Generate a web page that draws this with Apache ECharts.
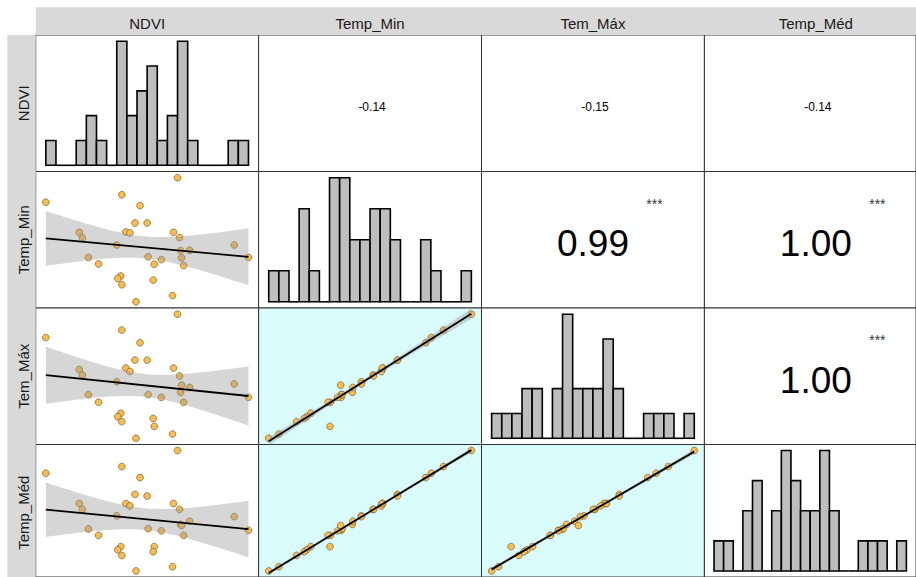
<!DOCTYPE html>
<html><head><meta charset="utf-8">
<script src="https://cdn.jsdelivr.net/npm/echarts@6/dist/echarts.min.js"></script>
<style>html,body{margin:0;padding:0;background:#fff}#c{width:916px;height:577px}</style>
</head><body><div id="c"></div>
<script>
// ---- data ----
const varNames = ['NDVI', 'Temp_Min', 'Tem_Máx', 'Temp_Méd'];
const ndvi    = [0.600,0.675,0.730,0.693,0.688,0.700,0.633,0.636,0.679,0.683,0.726,0.732,0.670,0.733,0.742,0.786,0.800,0.642,0.701,0.714,0.734,0.652,0.707,0.736,0.674,0.671,0.675,0.706,0.725,0.689];
const tempMin = [17.21,17.45,18.00,17.10,16.54,16.54,16.24,16.06,16.25,16.22,16.24,16.07,15.83,15.65,15.66,15.83,15.43,15.43,15.45,15.36,15.42,15.22,15.21,15.17,14.83,14.75,14.55,14.70,14.20,14.00];
const temMax  = [30.06,30.36,31.00,29.85,29.15,29.15,28.77,28.55,28.83,28.69,28.83,28.51,28.28,27.85,28.05,28.19,27.65,27.76,27.76,27.65,28.14,27.45,26.48,27.45,27.01,26.87,26.67,26.80,26.17,26.00];
const tempMed = [23.65,23.90,24.50,23.49,22.86,22.80,22.52,22.30,22.52,22.43,22.52,22.30,22.06,21.74,21.86,22.03,21.52,21.57,21.58,21.50,21.70,21.33,20.91,21.33,20.91,20.79,20.58,20.72,20.16,20.00];
// histogram counts (20 bins spanning each variable's range)
const histNDVI    = [1,0,0,1,2,1,0,5,2,3,4,1,2,5,1,0,0,0,1,1];
const histTempMin = [1,1,0,3,1,0,4,4,2,2,3,3,2,0,0,2,1,0,0,1];
const histTemMax  = [1,1,1,2,2,0,2,5,2,2,2,4,2,0,0,1,1,1,0,1];
const histTempMed = [1,1,0,2,3,0,2,4,3,2,2,4,2,0,0,1,1,1,0,1];
// correlation labels in the upper panels [row][col]
const corrText  = [[null,'-0.14','-0.15','-0.14'],[null,null,'0.99','1.00'],[null,null,null,'1.00'],[null,null,null,null]];
const corrStars = [[null,'','',''],[null,null,'***','***'],[null,null,null,'***'],[null,null,null,null]];

// ---- layout ----
const L0 = 35.7, T0 = 35, CW = 222.9, CH = 136.5;
const vars = [ndvi, tempMin, temMax, tempMed];
const hists = [histNDVI, histTempMin, histTemMax, histTempMed];
const T_CRIT = 2.048; // t(0.975, 28)

function ext(a){const mn=Math.min(...a), mx=Math.max(...a), r=mx-mn; return {mn, mx, lo:mn-0.05*r, hi:mx+0.05*r};}
function fit(x, y){
  const n=x.length; const xb=x.reduce((s,v)=>s+v,0)/n, yb=y.reduce((s,v)=>s+v,0)/n;
  let sxx=0, sxy=0; for(let i=0;i<n;i++){sxx+=(x[i]-xb)**2; sxy+=(x[i]-xb)*(y[i]-yb);}
  const b=sxy/sxx, a=yb-b*xb; let sse=0; for(let i=0;i<n;i++){sse+=(y[i]-a-b*x[i])**2;}
  const s=Math.sqrt(sse/(n-2)); const mn=Math.min(...x), mx=Math.max(...x);
  const up=[], lo=[];
  for(let j=0;j<=80;j++){const x0=mn+(mx-mn)*j/80, yh=a+b*x0, se=s*Math.sqrt(1/n+(x0-xb)**2/sxx); up.push([x0,yh+T_CRIT*se]); lo.push([x0,yh-T_CRIT*se]);}
  return {line:[[mn,a+b*mn],[mx,a+b*mx]], poly: up.concat(lo.reverse())};
}

const grids=[], xAxes=[], yAxes=[], series=[], elems=[];
for(let r=0;r<4;r++){
  for(let c=0;c<4;c++){
    const k=r*4+c;
    grids.push({left:L0+c*CW, top:T0+r*CH, width:CW, height:CH, show:true, borderColor:'#333', borderWidth:1,
      backgroundColor:(r>c && c>0)?'#d9fbfb':'#ffffff'});
    const ex=ext(vars[c]);
    xAxes.push({type:'value', gridIndex:k, min:ex.lo, max:ex.hi, show:false});
    if(r===c){
      const h=hists[c], m=Math.max(...h), w=(ex.mx-ex.mn)/h.length, lo0=ex.mn;
      yAxes.push({type:'value', gridIndex:k, min:-0.05*m, max:1.05*m, show:false});
      series.push({type:'custom', xAxisIndex:k, yAxisIndex:k, silent:true, z:2,
        data:h.map((v,i)=>[i,v]),
        renderItem:function(p,api){
          const i=api.value(0), cnt=api.value(1);
          const p0=api.coord([lo0+i*w,cnt]), p1=api.coord([lo0+(i+1)*w,0]);
          if(cnt===0) return {type:'line', shape:{x1:p0[0],y1:p1[1],x2:p1[0],y2:p1[1]}, style:{stroke:'#000',lineWidth:1.6}};
          return {type:'rect', shape:{x:p0[0],y:p0[1],width:p1[0]-p0[0],height:p1[1]-p0[1]}, style:{fill:'#bebebe',stroke:'#000',lineWidth:1.6}};
        }});
    } else if(r>c){
      const ey=ext(vars[r]);
      yAxes.push({type:'value', gridIndex:k, min:ey.lo, max:ey.hi, show:false});
      series.push({type:'scatter', xAxisIndex:k, yAxisIndex:k, silent:true, z:2,
        data:vars[c].map((v,i)=>[v,vars[r][i]]), symbolSize:6.8,
        itemStyle:{color:'#f7bd4f', borderColor:'#6b5120', borderWidth:0.6, opacity:1}});
      const f=fit(vars[c], vars[r]);
      series.push({type:'custom', xAxisIndex:k, yAxisIndex:k, silent:true, z:3,
        data:[[ex.mn, ey.mn]],
        renderItem:function(p,api){return {type:'polygon', shape:{points:f.poly.map(q=>api.coord(q))}, style:{fill:'rgba(153,153,153,0.4)'}};}});
      series.push({type:'line', xAxisIndex:k, yAxisIndex:k, silent:true, z:4, data:f.line, symbol:'none', showSymbol:false,
        lineStyle:{color:'#000', width:1.8}});
    } else {
      yAxes.push({type:'value', gridIndex:k, min:0, max:1, show:false});
      const cx=L0+c*CW+CW/2, cy=T0+r*CH+CH/2;
      const big = corrStars[r][c] !== '';
      elems.push({type:'text', x:cx+(big?0:2), y:cy+(big?4:3.3), z:10,
        style:{text:corrText[r][c], fontSize:big?37:12, fontFamily:'Liberation Sans', fill:'#000', align:'center', verticalAlign:'middle'}});
      if(big) elems.push({type:'text', x:cx+61.5, y:cy-36, z:10,
        style:{text:corrStars[r][c], fontSize:14, fontFamily:'Liberation Sans', fill:'#333', align:'center', verticalAlign:'middle'}});
    }
  }
}
// strips
elems.push({type:'rect', z:0, shape:{x:L0, y:7.3, width:916-L0, height:T0-7.3}, style:{fill:'#d9d9d9'}});
elems.push({type:'rect', z:0, shape:{x:7.3, y:T0, width:L0-7.3, height:577-T0}, style:{fill:'#d9d9d9'}});
for(let i=0;i<4;i++){
  elems.push({type:'text', z:10, x:L0+i*CW+CW/2, y:23.5,
    style:{text:varNames[i], fontSize:15, fontFamily:'Liberation Sans', fill:'#1a1a1a', align:'center', verticalAlign:'middle'}});
  elems.push({type:'text', z:10, x:23.5, y:T0+i*CH+CH/2, rotation:Math.PI/2,
    style:{text:varNames[i], fontSize:15, fontFamily:'Liberation Sans', fill:'#1a1a1a', align:'center', verticalAlign:'middle'}});
}

const chart = echarts.init(document.getElementById('c'), null, {renderer:'svg', width:916, height:577});
chart.setOption({animation:false, backgroundColor:'#fff', grid:grids, xAxis:xAxes, yAxis:yAxes, series:series, graphic:{elements:elems}});
</script></body></html>
